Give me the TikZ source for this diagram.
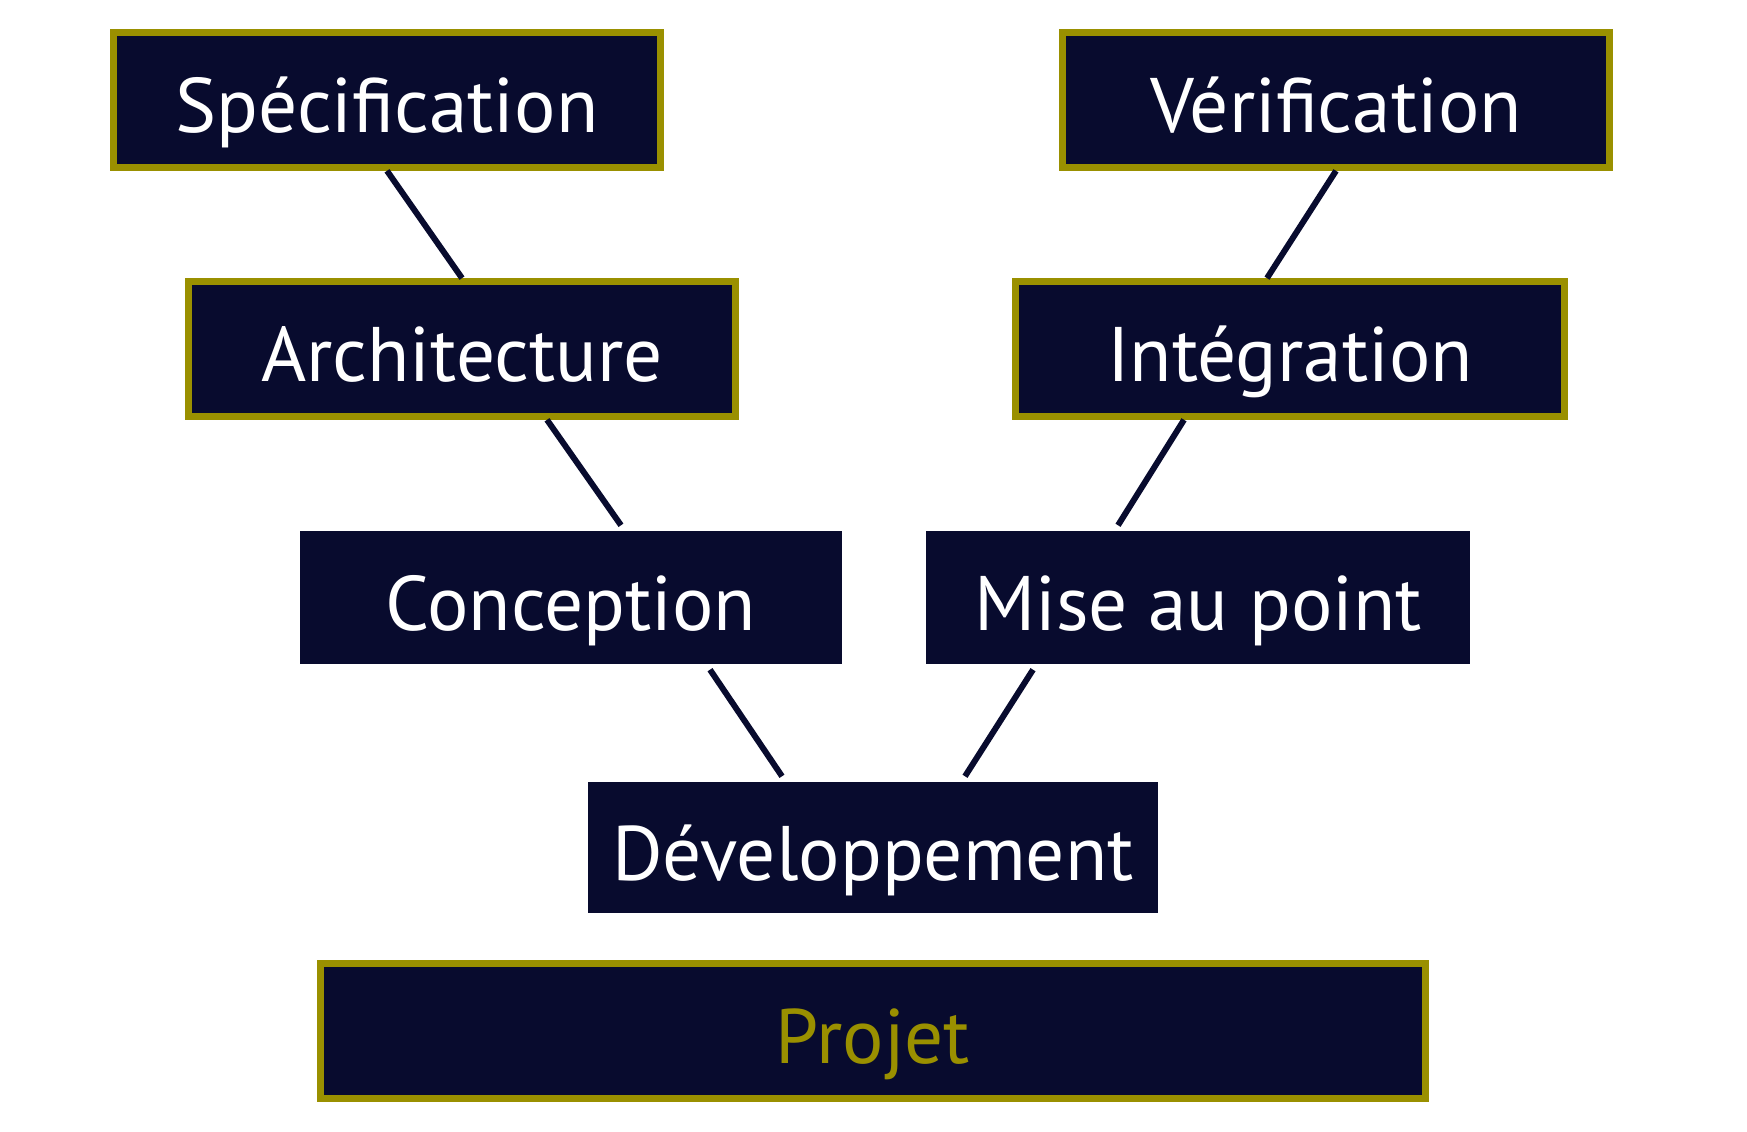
\documentclass[tikz,border=0pt]{standalone}
\usepackage{fontspec}
\setmainfont{PT Sans}
\usepackage{tikz}
\usetikzlibrary{calc}
\definecolor{navyfill}{HTML}{080B2E}
\definecolor{olivecol}{HTML}{9A9000}

\begin{document}
\begin{tikzpicture}[
  etape/.style={fill=navyfill, text=white, inner sep=0pt,
    text height=0.80cm, text depth=0.14cm,
    minimum height=1.33cm, font=\fontsize{22}{26}\selectfont},
  cadre/.style={etape, draw=olivecol, line width=1.9pt, minimum height=1.35cm},
  lien/.style={navyfill, line width=1.7pt}
]
\useasboundingbox (0,0) rectangle (17.47,11.32);
% left branch of the V
\node[cadre, minimum width=5.47cm] (spec) at (3.87,10.32) {Spécification};
\node[cadre, minimum width=5.47cm] (arch) at (4.62,7.83) {Architecture};
\node[etape, minimum width=5.42cm] (conc) at (5.71,5.345) {Conception};
% right branch of the V
\node[cadre, minimum width=5.47cm] (verif) at (13.36,10.32) {Vérification};
\node[cadre, minimum width=5.49cm] (integ) at (12.90,7.83) {Intégration};
\node[etape, minimum width=5.44cm] (mise) at (11.98,5.345) {Mise au point};
% bottom of the V
\node[etape, minimum width=5.70cm, minimum height=1.31cm] (dev) at (8.73,2.845) {Développement};
\node[cadre, minimum width=11.05cm, text=olivecol] (projet) at (8.73,1.01) {Projet};
% links between phases
\draw[lien] (spec.south) -- (arch.north);
\draw[lien] ([xshift=0.85cm]arch.south) -- ([xshift=0.50cm,yshift=0.05cm]conc.north);
\draw[lien] ([xshift=1.39cm,yshift=-0.05cm]conc.south) -- ([xshift=-0.91cm,yshift=0.05cm]dev.north);
\draw[lien] (verif.south) -- ([xshift=-0.23cm]integ.north);
\draw[lien] ([xshift=-1.06cm]integ.south) -- ([xshift=-0.80cm,yshift=0.05cm]mise.north);
\draw[lien] ([xshift=-1.65cm,yshift=-0.05cm]mise.south) -- ([xshift=0.92cm,yshift=0.05cm]dev.north);
\end{tikzpicture}
\end{document}
